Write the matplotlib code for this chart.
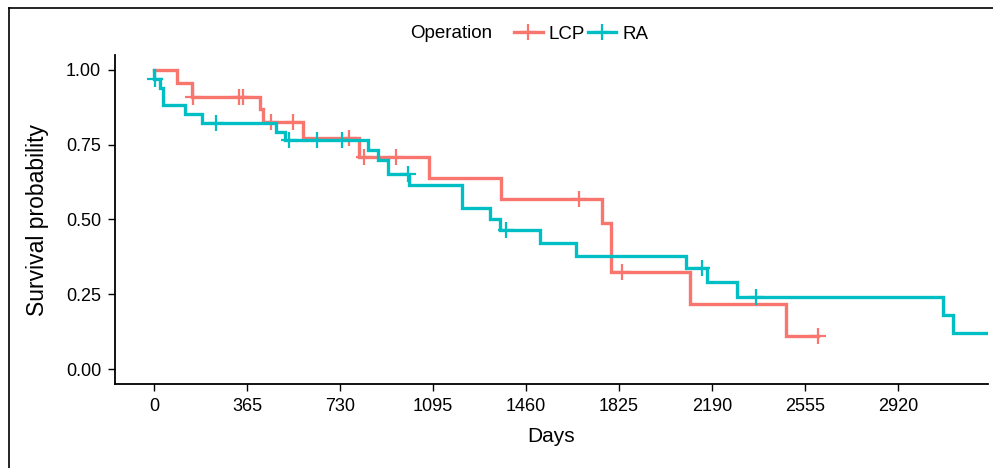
import numpy as np
import matplotlib.pyplot as plt
from matplotlib.lines import Line2D

plt.rcParams['font.family'] = ['Liberation Sans', 'DejaVu Sans']

# LCP group: event times (days) and survival after each event
lcp_times = [89, 148, 416, 426, 583, 806, 1081, 1360, 1757, 1792, 2104, 2479]
lcp_surv = [0.955, 0.909, 0.869, 0.827, 0.771, 0.708, 0.640, 0.570, 0.489, 0.326, 0.217, 0.109]
lcp_censor = [154, 334, 350, 458, 544, 765, 824, 948, 1668, 1835, 2605]
lcp_end = 2605

# RA group
ra_times = [1, 25, 37, 122, 187, 479, 514, 840, 880, 919, 1000, 1210, 1319, 1358,
            1515, 1655, 2087, 2172, 2289, 3098, 3137]
ra_surv = [0.971, 0.941, 0.882, 0.853, 0.824, 0.794, 0.765, 0.732, 0.699, 0.652, 0.615,
           0.537, 0.500, 0.465, 0.420, 0.379, 0.339, 0.290, 0.242, 0.181, 0.121]
ra_censor = [4, 243, 531, 641, 739, 995, 1381, 2149, 2363]
ra_end = 3265

x_ticks = [0, 365, 730, 1095, 1460, 1825, 2190, 2555, 2920]
y_ticks = [0.00, 0.25, 0.50, 0.75, 1.00]

red = '#F8766D'
cyan = '#00BFC4'

fig = plt.figure(figsize=(9.93, 4.68), dpi=100)
ax = fig.add_axes([115 / 993, 1 - 384 / 468, 873 / 993, 329 / 468])


def draw(times, surv, censor, end, color):
    t = np.array([0] + times + [end])
    s = np.array([1.0] + surv + [surv[-1]])
    ax.step(t, s, where='post', color=color, lw=2.4, solid_joinstyle='miter')
    idx = np.searchsorted(t, censor, side='right') - 1
    ax.plot(censor, s[idx], '+', color=color, ms=11, mew=1.6, ls='none')


draw(lcp_times, lcp_surv, lcp_censor, lcp_end, red)
draw(ra_times, ra_surv, ra_censor, ra_end, cyan)

ax.set_xlim(-153, 3273)
ax.set_ylim(-0.05, 1.05)
ax.set_xticks(x_ticks)
ax.set_xticklabels([str(v) for v in x_ticks])
ax.set_yticks(y_ticks)
ax.set_yticklabels([f'{v:.2f}' for v in y_ticks])
ax.tick_params(labelsize=13, length=5, width=1, colors='black', pad=5)
for side in ['top', 'right']:
    ax.spines[side].set_visible(False)
for side in ['left', 'bottom']:
    ax.spines[side].set_linewidth(1.3)

ax.set_xlabel('Days', fontsize=15, labelpad=9)
ax.set_ylabel('Survival probability', fontsize=16.5, labelpad=12)

# legend on top
fig.text(410 / 993, 1 - 34 / 468, 'Operation', fontsize=13.5, va='center', ha='left')
handles = [Line2D([], [], color=red, lw=2.4, marker='+', ms=11, mew=1.6),
           Line2D([], [], color=cyan, lw=2.4, marker='+', ms=11, mew=1.6)]
fig.legend(handles, ['LCP', 'RA'], loc='center left', bbox_to_anchor=(505 / 993, 1 - 34 / 468),
           ncol=2, frameon=False, fontsize=13.5, handlelength=1.5, handletextpad=0.3,
           columnspacing=0.2, borderpad=0)

# frame on the left and top edges of the image
fig.add_artist(Line2D([8.5 / 993, 8.5 / 993], [0, 1 - 7.5 / 468], color='black', lw=1.2,
                      transform=fig.transFigure))
fig.add_artist(Line2D([8.5 / 993, 1], [1 - 7.5 / 468, 1 - 7.5 / 468], color='black', lw=1.2,
                      transform=fig.transFigure))

fig.savefig('out.png', dpi=100)
